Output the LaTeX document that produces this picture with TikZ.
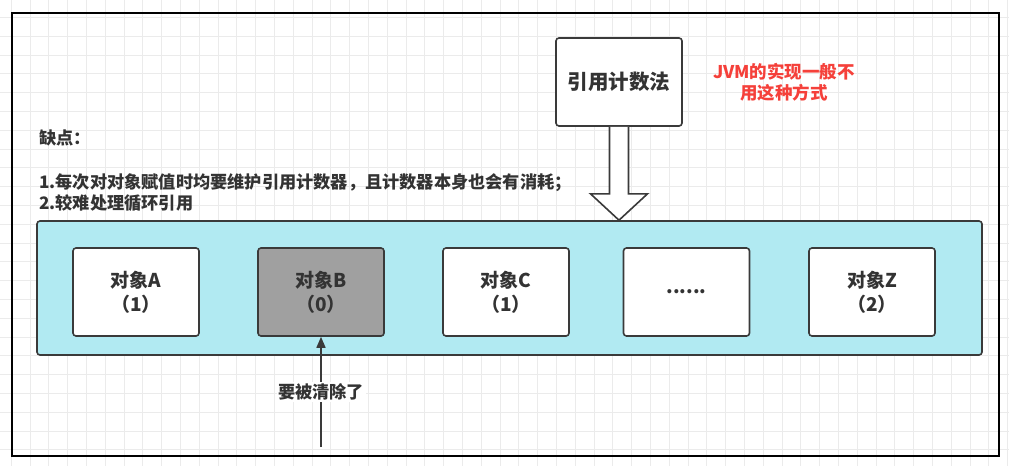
\documentclass[tikz,border=0pt]{standalone}
\usepackage{fontspec}
\setmainfont{Noto Sans CJK SC}
\usetikzlibrary{arrows.meta,calc}
\definecolor{txt}{HTML}{333333}
\definecolor{edge}{HTML}{3A3A3A}
\definecolor{cyanfill}{HTML}{B1EAF2}
\definecolor{grayfill}{HTML}{A0A0A0}
\definecolor{redtxt}{HTML}{F5403A}
\definecolor{gridc}{HTML}{EBEBEB}
\tikzset{
  objbox/.style={draw=edge, line width=1.6pt, rounded corners=3pt, fill=white,
    minimum width=126pt, minimum height=88pt, inner sep=0pt, align=center,
    text=txt, font=\fontsize{19}{24}\selectfont\bfseries},
  plain/.style={text=txt, font=\fontsize{17.2}{21}\selectfont\bfseries, inner sep=0pt},
}
\begin{document}
\begin{tikzpicture}[x=1pt,y=-1pt]
\useasboundingbox (0,0) rectangle (1009,466);
\fill[white] (0,0) rectangle (1009,466);
% background grid
\foreach \i in {0,...,53} \draw[gridc, line width=0.8pt] ({11.2+\i*18.8},0) -- ++(0,466);
\foreach \j in {0,...,25} \draw[gridc, line width=0.8pt] (0,{-1.4+\j*18.8}) -- ++(1009,0);
% outer frame
\draw[black, line width=2.2pt] (12,13) rectangle (999,456);
% container
\node[draw=edge, line width=1.6pt, rounded corners=3pt, fill=cyanfill,
  minimum width=945pt, minimum height=134pt, inner sep=0pt] (heap) at (509.5,288) {};
% objects
\node[objbox] (A) at (136,292) {对象A\\（1）};
\node[objbox, fill=grayfill] (B) at (321,292) {对象B\\（0）};
\node[objbox] (C) at (506,292) {对象C\\（1）};
\node[objbox] (D) at (686.5,292) {......};
\node[objbox] (Z) at (872,292) {对象Z\\（2）};
% top box
\node[objbox, font=\fontsize{20.5}{24}\selectfont\bfseries] (rc) at (619,82) {引用计数法};
% hollow arrow
\draw[edge, line width=1.6pt, fill=white, line join=miter]
  ($(rc.south)+(-9.5,0)$) -- ($(rc.south)+(-9.5,67)$) -- ($(rc.south)+(-28.5,67)$)
  -- (heap.north -| rc.south) -- ($(rc.south)+(28.5,67)$) -- ($(rc.south)+(9.5,67)$)
  -- ($(rc.south)+(9.5,0)$);
% red note
\node[text=redtxt, font=\fontsize{17.5}{21}\selectfont\bfseries, align=center, inner sep=0pt] (note) at (784,82) {JVM的实现一般不\\用这种方式};
% left text
\node[plain, anchor=west] (cons) at (39,138) {缺点：};
\node[plain, anchor=west, align=left] (list) at (39,192.5) {1.每次对对象赋值时均要维护引用计数器，且计数器本身也会有消耗；\\2.较难处理循环引用};
% arrow to B
\coordinate (src) at (321,447);
\draw[edge, line width=1.6pt, -{Triangle[length=11pt,width=9pt]}] (src) -- (B.south)
  node[midway, fill=white, plain, inner sep=1.5pt] (lbl) {要被清除了};
\end{tikzpicture}
\end{document}
